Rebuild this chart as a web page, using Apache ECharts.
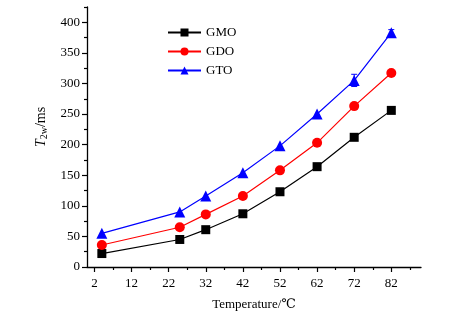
<!DOCTYPE html>
<html><head><meta charset="utf-8">
<script src="https://cdn.jsdelivr.net/npm/echarts@6/dist/echarts.min.js"></script>
<style>html,body{margin:0;padding:0;background:#fff}#c{width:462px;height:321px}</style>
</head><body><div id="c"></div>
<script>
const temps = [4, 25, 32, 42, 52, 62, 72, 82];
const gmo = [22, 45, 61, 87, 123, 164, 212, 256];
const gdo = [36, 65, 86, 116, 158, 203, 263, 317];
const gto = [55, 90, 116, 154, 198, 250, 305, 383];
const gmoErr = [0, 0, 0, 0, 0, 0, 3, 5];
const gdoErr = [0, 0, 0, 0, 0, 0, 0, 0];
const gtoErr = [0, 0, 0, 0, 0, 0, 10, 5];
const xMajorTicks = [2, 12, 22, 32, 42, 52, 62, 72, 82];
const xMinorTicks = [7, 17, 27, 37, 47, 57, 67, 77, 87];
const yMajorTicks = [0, 50, 100, 150, 200, 250, 300, 350, 400];
const yMinorTicks = [25, 75, 125, 175, 225, 275, 325, 375, 425];

const font = '"Liberation Serif", "DejaVu Serif", serif';
const chart = echarts.init(document.getElementById('c'));

function pairs(ys) { return temps.map((t, i) => [t, ys[i]]); }
function errData(ys, es) { return temps.map((t, i) => [t, ys[i] - es[i], ys[i] + es[i], es[i]]); }
function errSeries(ys, es, color) {
  return {
    type: 'custom', xAxisIndex: 0, yAxisIndex: 0, silent: true, z: 1,
    data: errData(ys, es),
    renderItem: function (params, api) {
      if (api.value(3) <= 0) return null;
      const lo = api.coord([api.value(0), api.value(1)]);
      const hi = api.coord([api.value(0), api.value(2)]);
      const w = 3;
      const st = { stroke: color, lineWidth: 1 };
      return { type: 'group', children: [
        { type: 'line', shape: { x1: lo[0], y1: lo[1], x2: hi[0], y2: hi[1] }, style: st },
        { type: 'line', shape: { x1: lo[0] - w, y1: lo[1], x2: lo[0] + w, y2: lo[1] }, style: st },
        { type: 'line', shape: { x1: hi[0] - w, y1: hi[1], x2: hi[0] + w, y2: hi[1] }, style: st }
      ]};
    }
  };
}
function lineSeries(name, ys, color, symbol, size) {
  return {
    name: name, type: 'line', data: pairs(ys), symbol: symbol, symbolSize: size,
    showAllSymbol: true, z: 3, xAxisIndex: 0, yAxisIndex: 0,
    lineStyle: { color: color, width: 1.2 },
    itemStyle: { color: color }
  };
}
const tickStyle = { color: '#000', width: 1.2 };

chart.setOption({
  animation: false,
  backgroundColor: '#fff',
  grid: { left: 87, right: 41, top: 7, bottom: 54 },
  legend: {
    orient: 'vertical', left: 162, top: 21, itemWidth: 33, itemHeight: 10, itemGap: 6,
    textStyle: { fontFamily: font, fontSize: 13, color: '#000' },
    data: ['GMO', 'GDO', 'GTO']
  },
  xAxis: [{
    type: 'value', min: 0, max: 90,
    name: 'Temperature/℃', nameLocation: 'middle', nameGap: 31,
    nameTextStyle: { fontFamily: font, fontSize: 13, color: '#000' },
    axisLine: { show: true, lineStyle: { color: '#000', width: 1.3 } },
    axisTick: { show: true, customValues: xMajorTicks, length: 5, lineStyle: tickStyle },
    axisLabel: { customValues: xMajorTicks, fontFamily: font, fontSize: 13, color: '#000', margin: 10 },
    splitLine: { show: false }
  }, {
    type: 'value', min: 0, max: 90, position: 'bottom',
    axisLine: { show: false },
    axisTick: { show: true, customValues: xMinorTicks, length: 3, lineStyle: tickStyle },
    axisLabel: { show: false },
    splitLine: { show: false }
  }],
  yAxis: [{
    type: 'value', min: 0, max: 425,
    name: '{i|T}{s|2w}{n|/ms}', nameLocation: 'middle', nameGap: 36,
    nameTextStyle: {
      padding: [0, 0, 0, 20],
      rich: {
        i: { fontFamily: font, fontStyle: 'italic', fontSize: 14, color: '#000' },
        s: { fontFamily: font, fontSize: 10, color: '#000', verticalAlign: 'bottom', padding: [6, 0, 0, 0] },
        n: { fontFamily: font, fontSize: 14, color: '#000' }
      }
    },
    axisLine: { show: true, lineStyle: { color: '#000', width: 1.3 } },
    axisTick: { show: true, customValues: yMajorTicks, length: 5, lineStyle: tickStyle },
    axisLabel: { customValues: yMajorTicks, fontFamily: font, fontSize: 13, color: '#000', margin: 7 },
    splitLine: { show: false }
  }, {
    type: 'value', min: 0, max: 425, position: 'left',
    axisLine: { show: false },
    axisTick: { show: true, customValues: yMinorTicks, length: 3, lineStyle: tickStyle },
    axisLabel: { show: false },
    splitLine: { show: false }
  }],
  series: [
    errSeries(gmo, gmoErr, '#000'),
    errSeries(gdo, gdoErr, '#f00'),
    errSeries(gto, gtoErr, '#00f'),
    lineSeries('GMO', gmo, '#000', 'rect', 9),
    lineSeries('GDO', gdo, '#ff0000', 'circle', 10),
    lineSeries('GTO', gto, '#0000ff', 'triangle', 11)
  ]
});
</script></body></html>
